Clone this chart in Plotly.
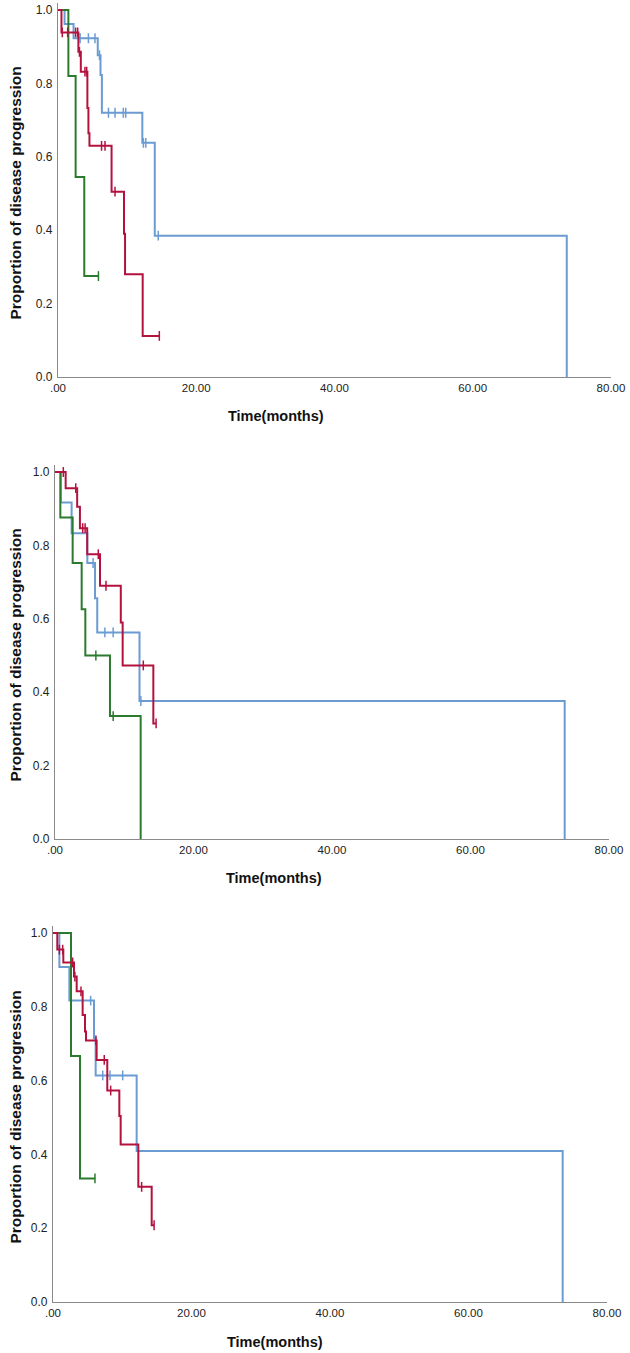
import plotly.graph_objects as go

OFF = 0
W, H = 630, 1353

# ---------------- Data ----------------
# Panel 1
p1_blue_t = [0.95, 2.25, 5.75, 6.15, 6.35, 12.2, 14.0, 73.6]
p1_blue_s = [0.962, 0.923, 0.877, 0.823, 0.720, 0.638, 0.385, 0.0]
p1_blue_c = [3.2, 4.4, 5.35, 6.0, 7.3, 8.25, 9.45, 9.8, 12.35, 12.7, 14.5]

p1_red_t = [0.5, 2.95, 3.3, 4.25, 4.4, 4.55, 7.75, 9.55, 9.7, 12.25]
p1_red_s = [0.939, 0.886, 0.832, 0.733, 0.664, 0.630, 0.505, 0.390, 0.280, 0.112]
p1_red_c = [0.62, 1.4, 2.55, 2.85, 3.1, 3.9, 4.15, 6.3, 6.8, 8.25, 14.66]

p1_green_t = [1.5, 2.55, 3.8]
p1_green_s = [0.820, 0.545, 0.275]
p1_green_c = [5.85]

# Panel 2
p2_blue_t = [0.85, 2.4, 4.67, 5.78, 6.1, 12.2, 73.6]
p2_blue_s = [0.917, 0.833, 0.752, 0.656, 0.563, 0.376, 0.0]
p2_blue_c = [5.5, 7.2, 8.4, 12.4]

p2_red_t = [1.54, 3.2, 3.6, 4.65, 6.5, 9.5, 9.77, 14.2]
p2_red_s = [0.956, 0.905, 0.847, 0.776, 0.690, 0.590, 0.473, 0.315]
p2_red_c = [1.2, 3.0, 4.0, 4.35, 6.25, 7.36, 12.75, 14.6]

p2_green_t = [0.77, 2.55, 3.85, 4.38, 7.94, 12.37]
p2_green_s = [0.876, 0.752, 0.626, 0.500, 0.335, 0.0]
p2_green_c = [5.9, 8.4]

# Panel 3
p3_blue_t = [0.92, 2.36, 5.92, 6.16, 12.08, 73.6]
p3_blue_s = [0.908, 0.817, 0.715, 0.614, 0.409, 0.0]
p3_blue_c = [5.44, 7.18, 8.23, 10.06]

p3_red_t = [0.62, 1.49, 3.03, 3.42, 4.28, 4.62, 4.77, 6.3, 7.84, 9.58, 9.77, 12.32, 14.25]
p3_red_s = [0.955, 0.920, 0.882, 0.842, 0.778, 0.733, 0.709, 0.656, 0.573, 0.504, 0.427, 0.312, 0.208]
p3_red_c = [0.92, 1.4, 2.84, 3.16, 4.04, 6.2, 7.4, 8.33, 12.8, 14.6]

p3_green_t = [2.6, 3.9]
p3_green_s = [0.667, 0.335]
p3_green_c = [6.06]

x_ticks = [0, 20, 40, 60, 80]
x_ticktext = [".00", "20.00", "40.00", "60.00", "80.00"]
y_ticks = [0, 0.2, 0.4, 0.6, 0.8, 1.0]
y_ticktext = ["0.0", "0.2", "0.4", "0.6", "0.8", "1.0"]

x_title = "Time(months)"
y_title = "Proportion of disease progression"

# ---------------- Styling ----------------
BLUE = "#6b9bd3"
RED = "#b3123f"
GREEN = "#2b7a2e"
AXIS = "#8a8a8a"
FONT = "Liberation Sans, Arial, sans-serif"
YMAX = 1.02

# window-pixel geometry of each panel: (x0px, x80px, y0px, y1px, xtitle_cx, xtitle_cy)
panels_px = [
    (58, 611, 377, 10, 276, 416),
    (55, 609, 839, 472, 274, 878),
    (53, 607, 1302, 933, 275, 1342),
]

panel_data = [
    [(p1_blue_t, p1_blue_s, p1_blue_c, BLUE), (p1_green_t, p1_green_s, p1_green_c, GREEN),
     (p1_red_t, p1_red_s, p1_red_c, RED)],
    [(p2_blue_t, p2_blue_s, p2_blue_c, BLUE), (p2_green_t, p2_green_s, p2_green_c, GREEN),
     (p2_red_t, p2_red_s, p2_red_c, RED)],
    [(p3_blue_t, p3_blue_s, p3_blue_c, BLUE), (p3_green_t, p3_green_s, p3_green_c, GREEN),
     (p3_red_t, p3_red_s, p3_red_c, RED)],
]


def step_value(times, surv, t):
    v = 1.0
    for ti, si in zip(times, surv):
        if ti <= t:
            v = si
    return v


def fx(px):
    return (px - OFF) / W


def fy(py):
    return 1 - (py - OFF) / H


fig = go.Figure()
layout = {}
annotations = []

for i, ((x0, x80, y0, y1, tcx, tcy), curves) in enumerate(zip(panels_px, panel_data)):
    suffix = "" if i == 0 else str(i + 1)
    xa, ya = "x" + suffix, "y" + suffix
    top_px = max(y0 - (y0 - y1) * YMAX, OFF)
    ymax = (y0 - top_px) / (y0 - y1)
    xdom = [fx(x0), fx(x80)]
    ydom = [fy(y0), min(1.0, fy(top_px))]

    for times, surv, cens, col in curves:
        xs = [0.0] + list(times)
        ys = [1.0] + list(surv)
        if cens and max(cens) > xs[-1]:
            xs.append(max(cens))
            ys.append(ys[-1])
        fig.add_trace(go.Scatter(
            x=xs, y=ys, mode="lines", line=dict(color=col, width=2, shape="hv"),
            xaxis=xa, yaxis=ya, showlegend=False, hoverinfo="skip"))
        fig.add_trace(go.Scatter(
            x=list(cens), y=[step_value(times, surv, c) for c in cens], mode="markers",
            marker=dict(symbol="line-ns", size=7, line=dict(color=col, width=1.5)),
            xaxis=xa, yaxis=ya, showlegend=False, hoverinfo="skip"))

    layout["xaxis" + suffix] = dict(
        domain=xdom, range=[0, 80], anchor=ya, tickvals=x_ticks, ticktext=x_ticktext,
        showline=True, linecolor=AXIS, linewidth=1.2, showgrid=False, zeroline=False,
        automargin=False, ticks="", ticklabeloverflow="allow",
        tickfont=dict(family=FONT, size=11.5, color="#222"))
    layout["yaxis" + suffix] = dict(
        domain=ydom, range=[0, ymax], anchor=xa, tickvals=y_ticks, ticktext=y_ticktext,
        showline=True, linecolor=AXIS, linewidth=1.2, showgrid=False, zeroline=False,
        automargin=False, ticks="", ticklabelstandoff=2, ticklabeloverflow="allow",
        tickfont=dict(family=FONT, size=12, color="#222"))

    annotations.append(dict(
        text="<b>" + x_title + "</b>", xref="paper", yref="paper",
        x=fx(tcx), y=fy(tcy), xanchor="center", yanchor="middle", showarrow=False,
        font=dict(family=FONT, size=14.5, color="#111")))
    annotations.append(dict(
        text="<b>" + y_title + "</b>", xref="paper", yref="paper", textangle=-90,
        x=fx(15), y=fy((y0 + y1) / 2), xanchor="center", yanchor="middle",
        showarrow=False, font=dict(family=FONT, size=15.5, color="#111")))

fig.update_layout(
    width=W, height=H, margin=dict(l=0, r=0, t=0, b=0, autoexpand=False),
    paper_bgcolor="white", plot_bgcolor="white", annotations=annotations, **layout)

# remove the default 8px page margin so the figure sits at the window corner
fig.write_html("out.html", config={"displayModeBar": False},
               post_script="document.body.style.margin='0';")
